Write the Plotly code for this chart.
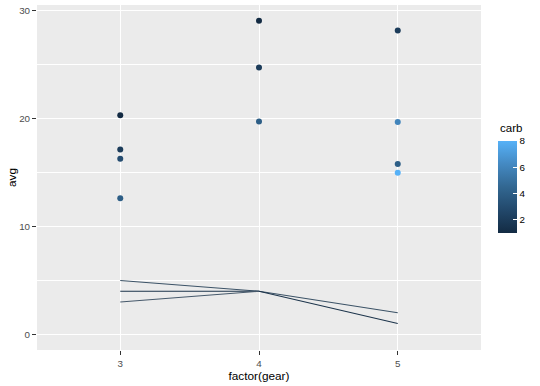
import plotly.graph_objects as go

# point data: average by gear and carb
gear = ["3", "3", "3", "3", "4", "4", "4", "5", "5", "5", "5"]
carb = [1, 2, 3, 4, 1, 2, 4, 2, 4, 6, 8]
avg = [20.33, 17.15, 16.3, 12.62, 29.1, 24.75, 19.75, 28.2, 15.8, 19.7, 15.0]

# line segments
line_x = [["3", "4", "5"], ["3", "4", "5"], ["3", "4"]]
line_y = [[5, 4, 2], [4, 4, 1], [3, 4]]
line_colors = ["#3b5266", "#1c344b", "#46596b"]

colorscale = [[0.0, "#132B43"], [0.25, "#22486B"], [0.5, "#326791"], [0.75, "#4489C2"], [1.0, "#56B1F7"]]

FONT = "Liberation Sans"

fig = go.Figure()
for xs, ys, c in zip(line_x, line_y, line_colors):
    fig.add_trace(go.Scatter(x=xs, y=ys, mode="lines", line=dict(color=c, width=1.1),
                             showlegend=False, hoverinfo="skip"))

fig.add_trace(go.Scatter(
    x=gear, y=avg, mode="markers", showlegend=False,
    marker=dict(size=6, color=carb, cmin=1, cmax=8, colorscale=colorscale,
                colorbar=dict(
                    xref="paper", yref="paper",
                    x=(498 - 37) / 444, xanchor="left", xpad=0,
                    y=(350 - 141) / 345, yanchor="top", ypad=0,
                    thickness=19, thicknessmode="pixels",
                    len=92, lenmode="pixels",
                    outlinewidth=0,
                    tickvals=[2, 4, 6, 8], ticktext=["2", "4", "6", "8"],
                    ticks="inside", ticklen=4, tickcolor="white",
                    tickfont=dict(size=9.8, color="#000000", family=FONT),
                )),
))

fig.add_annotation(
    text="carb", xref="paper", yref="paper",
    x=(498 - 37) / 444, y=(350 - 128) / 345, xanchor="left", yanchor="middle",
    showarrow=False, font=dict(size=11.5, color="black", family=FONT),
)

fig.update_layout(
    width=540, height=386,
    margin=dict(l=37, r=59, t=5, b=36, autoexpand=False),
    paper_bgcolor="white", plot_bgcolor="#EBEBEB",
    font=dict(family=FONT),
)
fig.update_xaxes(
    type="category", categoryorder="array", categoryarray=["3", "4", "5"],
    range=[-0.6, 2.6], showgrid=True, gridcolor="white", gridwidth=1.1,
    zeroline=False, ticks="outside", ticklen=4, tickcolor="#333333",
    tickfont=dict(size=9.8, color="#4D4D4D"), automargin=False,
    title=dict(text="factor(gear)", font=dict(size=11.8, color="black"), standoff=1),
)
fig.update_yaxes(
    range=[-1.455, 30.555], tickvals=[0, 10, 20, 30],
    showgrid=True, gridcolor="white", gridwidth=1.1, zeroline=False,
    ticks="outside", ticklen=4, tickcolor="#333333",
    tickfont=dict(size=9.8, color="#4D4D4D"), automargin=False,
    minor=dict(tickvals=[5, 15, 25], showgrid=True, gridcolor="white", gridwidth=0.55, ticks=""),
    title=dict(text="avg", font=dict(size=11.8, color="black"), standoff=0),
)

fig.write_html("out.html", config={"displayModeBar": False},
               post_script="document.body.style.margin='0';document.body.style.overflow='hidden';")
